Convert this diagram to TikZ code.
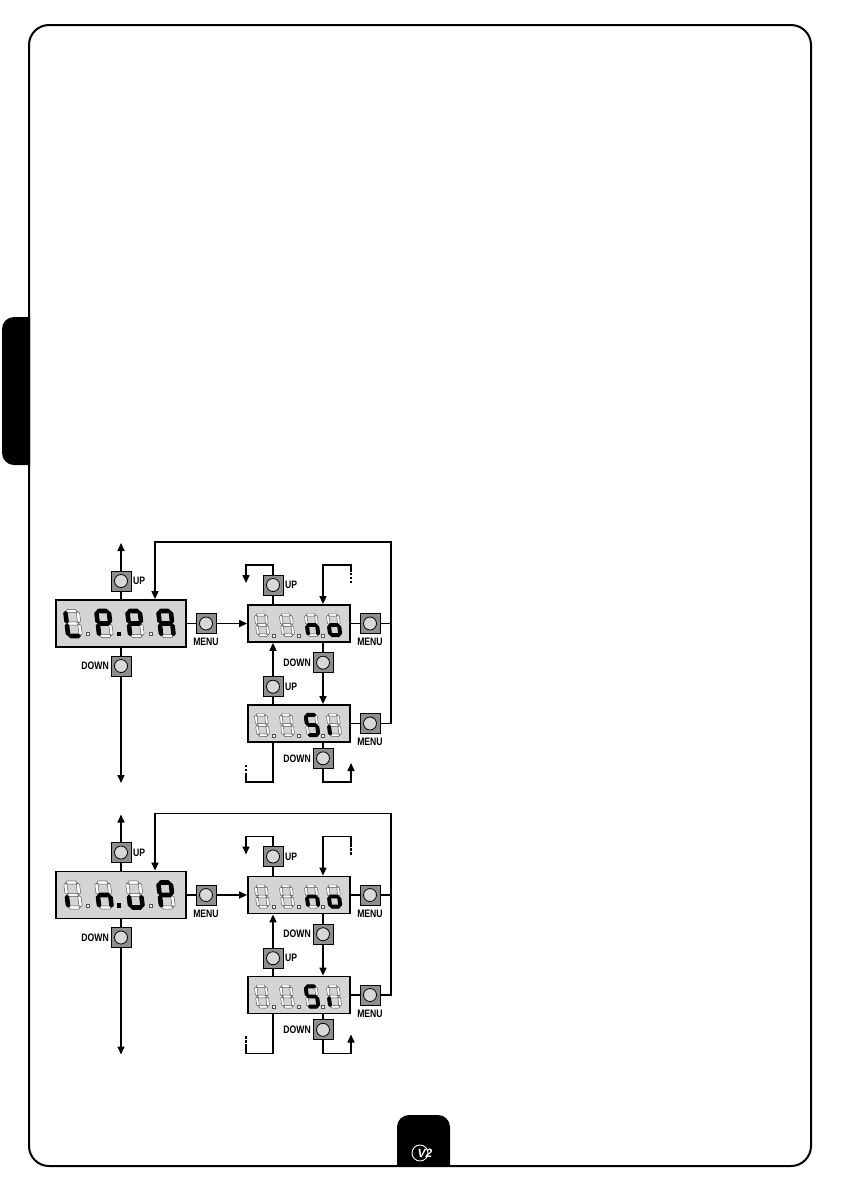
\documentclass[tikz,border=0pt]{standalone}
\usepackage{fontspec}
\usetikzlibrary{arrows.meta}
\newfontfamily\lblfont[FakeStretch=0.8]{Liberation Sans}
\newfontfamily\logofont{Liberation Sans}
\definecolor{dispgray}{HTML}{D4D4D4}
\definecolor{btngray}{HTML}{8E8E8E}
\definecolor{knobgray}{HTML}{D8D8D8}
\definecolor{segedge}{HTML}{505050}
\tikzset{
  conn/.style={line width=1.6pt, line join=miter},
  arr/.style={conn, -{Triangle[length=8pt,width=7pt]}},
  dashpart/.style={line width=1.4pt, dash pattern=on 2.2pt off 1.8pt},
  btn/.style={draw, line width=0.9pt, fill=btngray, minimum size=20pt, inner sep=0pt,
    path picture={\draw[line width=0.8pt, fill=knobgray] (path picture bounding box.center) circle (6.5pt);}},
  disp/.style={draw, line width=1.8pt, fill=dispgray, inner sep=0pt},
  lbl/.style={font=\lblfont\bfseries\fontsize{10.8}{11}\selectfont, inner sep=0pt},
  segoff/.style={fill=white, draw=segedge, line width=0.45pt},
  segon/.style={fill=black, draw=black, line width=1.3pt, line join=round},
}
\newcommand\hseg[2]{\path[#2] (-0.45,#1) -- (-0.32,#1+0.13) -- (0.32,#1+0.13) -- (0.45,#1) -- (0.32,#1-0.13) -- (-0.32,#1-0.13) -- cycle;}
\newcommand\vseg[4]{\path[#4] (#1,#2+0.05) -- (#1+0.13,#2+0.18) -- (#1+0.13,#3-0.18) -- (#1,#3-0.05) -- (#1-0.13,#3-0.18) -- (#1-0.13,#2+0.18) -- cycle;}
\newcommand\seg[2]{%
  \if a#1\hseg{1}{#2}\fi
  \if g#1\hseg{0}{#2}\fi
  \if d#1\hseg{-1}{#2}\fi
  \if f#1\vseg{-0.5}{0}{1}{#2}\fi
  \if b#1\vseg{0.5}{0}{1}{#2}\fi
  \if e#1\vseg{-0.5}{-1}{0}{#2}\fi
  \if c#1\vseg{0.5}{-1}{0}{#2}\fi}
\newcommand\sdig[4]{%
  \begin{scope}[shift={(#1,#2)}, xscale=#3, yscale=-#3, xslant=0.12]
    \foreach \q in {a,b,c,d,e,f,g}{\seg{\q}{segoff}}
    \foreach \q in {#4}{\seg{\q}{segon}}
  \end{scope}}
\newcommand\dotoff[2]{\path[segoff] (#1-1.5,#2-1.5) rectangle (#1+1.5,#2+1.5);}
\newcommand\doton[2]{\fill (#1-2.3,#2-2.3) rectangle (#1+2.3,#2+2.3);}
\newcommand\menudiag[3]{%
\begin{scope}[shift={(0,#1)}, name prefix=#2]
  \node[disp, minimum width=130pt, minimum height=47pt] (d1) at (121,623.5) {};
  \node[disp, minimum width=102pt, minimum height=37pt] (d2) at (299,623.5) {};
  \node[disp, minimum width=102pt, minimum height=37pt] (d3) at (299,723.5) {};
  #3
  \sdig{262}{625}{10.2}{x}\sdig{287}{625}{10.2}{x}\sdig{312}{625}{10.2}{c,e,g}\sdig{334}{625}{10.2}{c,d,e,g}
  \dotoff{273.5}{635.5}\dotoff{298.5}{635.5}\dotoff{323}{635.5}
  \sdig{262}{725}{10.2}{x}\sdig{287}{725}{10.2}{x}\sdig{312}{725}{10.2}{a,f,g,c,d}\sdig{334}{725}{10.2}{e}
  \dotoff{273.5}{735.5}\dotoff{298.5}{735.5}\dotoff{323}{735.5}
  \node[btn, label={[lbl,label distance=1.5pt]right:UP}] (u1) at (121,581) {};
  \node[btn, label={[lbl,label distance=1.5pt]left:DOWN}] (dn1) at (121,666) {};
  \node[btn, label={[lbl,label distance=4pt]below:MENU}] (m1) at (206,623.5) {};
  \node[btn, label={[lbl,label distance=1.5pt]right:UP}] (u2) at (273,585) {};
  \node[btn, label={[lbl,label distance=4pt]below:MENU}] (m2) at (370,623.5) {};
  \node[btn, label={[lbl,label distance=1.5pt]left:DOWN}] (dn2) at (323,662.7) {};
  \node[btn, label={[lbl,label distance=1.5pt]right:UP}] (u3) at (273,686.7) {};
  \node[btn, label={[lbl,label distance=4pt]below:MENU}] (m3) at (370,723.5) {};
  \node[btn, label={[lbl,label distance=1.5pt]left:DOWN}] (dn3) at (323,758.3) {};
  \coordinate (t1) at (121,543);
  \coordinate (b1) at (121,783);
  \draw[arr] (u1.north) -- (t1);
  \draw[conn] (u1.south) -- (d1.north);
  \draw[conn] (d1.south) -- (dn1.north);
  \draw[arr] (dn1.south) -- (b1);
  \draw[conn] (d1.east) -- (m1.west);
  \draw[arr] (m1.east) -- (d2.west);
  \draw[conn] (u2.south) -- (u2.south |- d2.north);
  \coordinate (c1) at (273,565);
  \coordinate (c2) at (246,565);
  \coordinate (c3) at (246,583);
  \draw[arr] (u2.north) -- (c1) -- (c2) -- (c3);
  \coordinate (r0) at (351,583);
  \coordinate (r1) at (351,572);
  \coordinate (r2) at (351,565);
  \coordinate (r3) at (323,565);
  \draw[dashpart] (r0) -- (r1);
  \draw[arr] (r1) -- (r2) -- (r3) -- (r3 |- d2.north);
  \draw[conn] (d2.east) -- (m2.west);
  \coordinate (rv2) at (391,623.5);
  \draw[conn] (m2.east) -- (rv2);
  \draw[conn] (d3.east) -- (m3.west);
  \coordinate (rv3) at (391,723.5);
  \coordinate (rtop) at (391,542);
  \coordinate (ltop) at (155,542);
  \draw[arr] (m3.east) -- (rv3) -- (rtop) -- (ltop) -- (ltop |- d1.north);
  \draw[conn] (dn2.north |- d2.south) -- (dn2.north);
  \draw[arr] (dn2.south) -- (dn2.south |- d3.north);
  \draw[conn] (u3.south |- d3.north) -- (u3.south);
  \draw[arr] (u3.north) -- (u3.north |- d2.south);
  \draw[conn] (dn3.north |- d3.south) -- (dn3.north);
  \coordinate (br1) at (323,782);
  \coordinate (br2) at (351,782);
  \coordinate (br3) at (351,763);
  \draw[arr] (dn3.south) -- (br1) -- (br2) -- (br3);
  \coordinate (bl1) at (273,782);
  \coordinate (bl2) at (246,782);
  \coordinate (bl3) at (246,775);
  \coordinate (bl4) at (246,764);
  \draw[conn] (bl1 |- d3.south) -- (bl1) -- (bl2) -- (bl3);
  \draw[dashpart] (bl3) -- (bl4);
\end{scope}}
\begin{document}
\begin{tikzpicture}[x=1pt,y=-1pt]
\useasboundingbox (0,0) rectangle (842,1191);
\fill[white] (0,0) rectangle (842,1191);
\begin{scope}
  \clip (0,0) rectangle (30,1191);
  \fill[rounded corners=12pt] (2,317) rectangle (50,465);
\end{scope}
\begin{scope}
  \clip (0,0) rectangle (842,1166);
  \fill[rounded corners=12pt] (397,1115) rectangle (450,1190);
\end{scope}
\draw[line width=2pt, rounded corners=20pt] (29,25) rectangle (811,1166);
\draw[white, line width=0.9pt] (420,1153) circle (8);
\node[text=white, inner sep=0pt, font=\logofont\bfseries\itshape\fontsize{12}{12}\selectfont] (logo) at (425,1153) {V2};
\menudiag{0}{A-}{%
  \sdig{73}{623.5}{12.5}{e,f,d}\sdig{104}{623.5}{12.5}{a,b,f,g,e}\sdig{135}{623.5}{12.5}{a,b,f,g,e}\sdig{166}{623.5}{12.5}{a,b,c,e,f,g}
  \dotoff{88}{634}\doton{119}{634}\dotoff{151}{634}}
\menudiag{271.5}{B-}{%
  \sdig{73}{623.5}{12.5}{e}\sdig{104}{623.5}{12.5}{c,e,g}\sdig{135}{623.5}{12.5}{c,d,e}\sdig{166}{623.5}{12.5}{a,b,e,f,g}
  \dotoff{88}{634}\doton{119}{634}\dotoff{151}{634}}
\end{tikzpicture}
\end{document}
